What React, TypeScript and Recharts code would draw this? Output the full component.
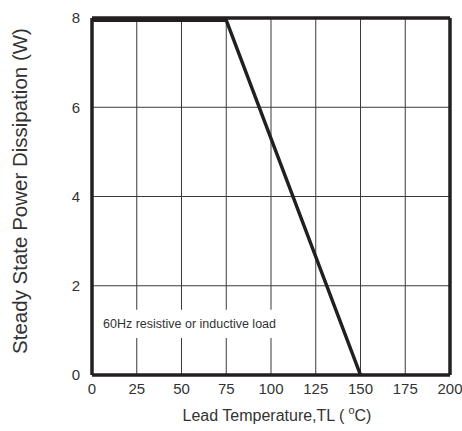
import {
  LineChart,
  Line,
  XAxis,
  YAxis,
  CartesianGrid,
  ReferenceLine,
  ReferenceArea,
  Label,
} from 'recharts';

// derating curve: lead temperature (°C) vs power (W)
const temps = [0, 75, 150];
const power = [7.95, 7.95, 0];

const xTicks = [0, 25, 50, 75, 100, 125, 150, 175, 200];
const yTicks = [0, 2, 4, 6, 8];

const note = '60Hz resistive or inductive load';

const data = temps.map((t, i) => ({ t, p: power[i] }));

const FONT = '"Liberation Sans", Arial, sans-serif';
const INK = '#231f20';

export default function App() {
  return (
    <>
      {/* page margin handled by the wrapper so nothing gets squeezed or scrolled */}
      <style>{'body{margin:0;overflow:hidden}'}</style>
      <div style={{ padding: '8px 0 0 8px', width: 454, height: 423 }}>
        <LineChart
          width={454}
          height={423}
          data={data}
          margin={{ top: 10, right: 12, left: 0, bottom: 0 }}
        >
          <CartesianGrid stroke="#3a3a3a" strokeWidth={1} />
          <XAxis
            dataKey="t"
            type="number"
            domain={[0, 200]}
            ticks={xTicks}
            interval={0}
            axisLine={false}
            tickLine={false}
            height={56}
            tick={{ fill: '#333', fontSize: 15, fontFamily: FONT }}
          >
            <Label
              content={() => (
                <text
                  x={269}
                  y={413}
                  textAnchor="middle"
                  fill="#333"
                  fontSize={16}
                  fontFamily={FONT}
                >
                  Lead Temperature,TL (
                  <tspan dx={4} dy={-7} fontSize={11}>o</tspan>
                  <tspan dy={7}>C)</tspan>
                </text>
              )}
            />
          </XAxis>
          <YAxis
            type="number"
            domain={[0, 8]}
            ticks={yTicks}
            interval={0}
            axisLine={false}
            tickLine={false}
            width={84}
            tickMargin={6}
            tick={{ fill: '#333', fontSize: 15, fontFamily: FONT }}
          >
            <Label
              content={() => (
                <text
                  x={18.5}
                  y={183}
                  transform="rotate(-90 18.5 183)"
                  textAnchor="middle"
                  fill="#333"
                  fontSize={20.5}
                  fontFamily={FONT}
                >
                  Steady State Power Dissipation (W)
                </text>
              )}
            />
          </YAxis>
          <ReferenceArea
            x1={0}
            x2={113}
            y1={0.83}
            y2={1.46}
            fill="#fff"
            fillOpacity={1}
            stroke="none"
            label={{
              value: note,
              position: 'insideLeft',
              offset: 11,
              fill: '#333',
              fontSize: 12.5,
              fontFamily: FONT,
            }}
          />
          <ReferenceLine x={0} stroke={INK} strokeWidth={3.5} />
          <ReferenceLine x={200} stroke={INK} strokeWidth={3.5} />
          <ReferenceLine y={0} stroke={INK} strokeWidth={3.5} />
          <ReferenceLine y={8} stroke={INK} strokeWidth={3.5} />
          <Line
            type="linear"
            dataKey="p"
            stroke={INK}
            strokeWidth={3.5}
            dot={false}
            isAnimationActive={false}
          />
        </LineChart>
      </div>
    </>
  );
}
